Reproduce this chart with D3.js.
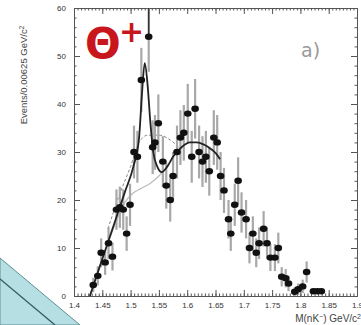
<!DOCTYPE html>
<html>
<head>
<meta charset="utf-8">
<script src="https://cdn.jsdelivr.net/npm/d3@7"></script>
<style>
  body { margin: 0; background: #fff; }
  svg { display: block; }
</style>
</head>
<body>
<div id="chart"></div>
<script>
// data
var massVals = [1.434,1.442,1.448,1.455,1.461,1.468,1.475,1.481,1.487,1.493,1.499,1.506,1.512,1.519,1.532,1.539,1.543,1.549,1.557,1.563,1.570,1.575,1.582,1.588,1.594,1.601,1.608,1.614,1.621,1.627,1.633,1.639,1.647,1.653,1.659,1.665,1.673,1.677,1.684,1.690,1.696,1.704,1.710,1.716,1.722,1.727,1.735,1.741,1.747,1.755,1.761,1.767,1.774,1.779,1.790,1.796,1.804,1.811,1.823,1.830,1.837];
var events = [2.3,4.2,9,7,11,8.2,18,18.5,18,13,19,30,29,45,54,31,32,36,28,23,20,25,30,33,34,38,29,39,30,28,29,26,33,32,25,22,16,13,19,24,17.4,16,10,13,9,11,14,11,8,8,10,4,3.7,2.6,0.9,1.4,2,5,1,1,1];
var errors = [1.5,2,3,2.6,3.3,2.9,4.2,4.3,4.2,3.6,4.4,5.5,5.4,6.7,7.3,5.6,5.7,6,5.3,4.8,4.5,5,5.5,5.7,5.8,6.2,5.4,6.2,5.5,5.3,5.4,5.1,5.7,5.7,5,4.7,4,3.6,4.4,4.9,4.2,4,3.2,3.6,3,3.3,3.7,3.3,2.8,2.8,3.2,2,1.9,1.6,0.9,1.2,1.4,2.2,0,0,0];

// fit with peak (black), background fits (grey solid, dashed)
var fitX = [1.428,1.45,1.47,1.49,1.505,1.515,1.52,1.525,1.53,1.535,1.54,1.547,1.555,1.565,1.575,1.59,1.605,1.617,1.63,1.64,1.65,1.658];
var fitY = [0,7.7,14.7,21.7,27,33,42,48.5,44,36,30,27,25.8,27,29,31,32,32,31.5,30.8,29.8,28.5];
var bgX = [1.428,1.46,1.49,1.505,1.52,1.535,1.55,1.565];
var bgY = [0,11,19.5,21.5,22.5,23.5,25,27];
var dashX = [1.46,1.48,1.5,1.515,1.53,1.55,1.57,1.585];
var dashY = [14,21,27,32,33.5,33.5,32.5,31];

var xTicks = [1.4,1.45,1.5,1.55,1.6,1.65,1.7,1.75,1.8,1.85,1.9];
var yTicks = [0,10,20,30,40,50,60];

var W = 361, H = 325;
var margin = {left: 74, right: 357, top: 8, bottom: 296};

var svg = d3.select("#chart").append("svg")
  .attr("width", W).attr("height", H);

// decorative blue band, bottom left
svg.append("path")
  .attr("d", "M0,258 L80,325 L0,325 Z")
  .attr("fill", "#b5dfe2").attr("stroke", "#5d8f95").attr("stroke-width", 1);
svg.append("path")
  .attr("d", "M0,279 L55,325")
  .attr("stroke", "#2f5a60").attr("stroke-width", 1.3).attr("fill", "none");

var x = d3.scaleLinear().domain([1.4, 1.9]).range([margin.left, margin.right]);
var y = d3.scaleLinear().domain([0, 60]).range([margin.bottom, margin.top]);

var minorX = d3.range(0, 81).map(i => 1.4 + i * 0.00625);
var minorY = d3.range(0, 31).map(i => i * 2);

var axisCol = "#555";

function styleAxis(g) {
  g.select(".domain").attr("stroke", axisCol).attr("stroke-width", 1);
  g.selectAll(".tick line").attr("stroke", axisCol);
  g.selectAll("text").attr("fill", "#333").attr("font-family", "Liberation Sans Narrow, Liberation Sans, sans-serif");
}

// bottom axis
svg.append("g")
  .attr("transform", `translate(0,${margin.bottom})`)
  .call(d3.axisBottom(x).tickValues(minorX).tickFormat("").tickSize(-2.5).tickSizeOuter(0))
  .call(styleAxis);
svg.append("g")
  .attr("transform", `translate(0,${margin.bottom})`)
  .call(d3.axisBottom(x).tickValues(xTicks).tickFormat(d => d3.format("")(d)).tickSize(-6).tickPadding(6).tickSizeOuter(0))
  .call(styleAxis)
  .selectAll("text").attr("font-size", 8);

// top axis
svg.append("g")
  .attr("transform", `translate(0,${margin.top})`)
  .call(d3.axisTop(x).tickValues(minorX).tickFormat("").tickSize(-2.5).tickSizeOuter(0))
  .call(styleAxis);
svg.append("g")
  .attr("transform", `translate(0,${margin.top})`)
  .call(d3.axisTop(x).tickValues(xTicks).tickFormat("").tickSize(-6).tickSizeOuter(0))
  .call(styleAxis);

// left axis
svg.append("g")
  .attr("transform", `translate(${margin.left},0)`)
  .call(d3.axisLeft(y).tickValues(minorY).tickFormat("").tickSize(-2.5).tickSizeOuter(0))
  .call(styleAxis);
svg.append("g")
  .attr("transform", `translate(${margin.left},0)`)
  .call(d3.axisLeft(y).tickValues(yTicks).tickSize(-6).tickPadding(8).tickSizeOuter(0))
  .call(styleAxis)
  .selectAll("text").attr("font-size", 8);

// right axis
svg.append("g")
  .attr("transform", `translate(${margin.right},0)`)
  .call(d3.axisRight(y).tickValues(minorY).tickFormat("").tickSize(-2.5).tickSizeOuter(0))
  .call(styleAxis);
svg.append("g")
  .attr("transform", `translate(${margin.right},0)`)
  .call(d3.axisRight(y).tickValues(yTicks).tickFormat("").tickSize(-6).tickSizeOuter(0))
  .call(styleAxis);

// curves
var line = d3.line().x(d => x(d[0])).y(d => y(d[1])).curve(d3.curveMonotoneX);

svg.append("path")
  .datum(bgX.map((v, i) => [v, bgY[i]]))
  .attr("d", line).attr("fill", "none")
  .attr("stroke", "#bbb").attr("stroke-width", 1.2);

svg.append("path")
  .datum(dashX.map((v, i) => [v, dashY[i]]))
  .attr("d", line).attr("fill", "none")
  .attr("stroke", "#888").attr("stroke-width", 1).attr("stroke-dasharray", "3,2");

// error bars
var pts = massVals.map((v, i) => ({m: v, n: events[i], e: errors[i]}));

svg.selectAll(".err")
  .data(pts)
  .join("line")
    .attr("class", "err")
    .attr("x1", d => x(d.m)).attr("x2", d => x(d.m))
    .attr("y1", d => y(Math.min(60, d.n + d.e))).attr("y2", d => y(Math.max(0, d.n - d.e)))
    .attr("stroke", "#a8a8a8").attr("stroke-width", 2.2);

svg.append("path")
  .datum(fitX.map((v, i) => [v, fitY[i]]))
  .attr("d", line).attr("fill", "none")
  .attr("stroke", "#222").attr("stroke-width", 1.8);

// peak marker line
svg.append("line")
  .attr("x1", x(1.532)).attr("x2", x(1.532))
  .attr("y1", y(60)).attr("y2", y(54))
  .attr("stroke", "#333").attr("stroke-width", 1.5);

// points
svg.selectAll(".pt")
  .data(pts)
  .join("ellipse")
    .attr("class", "pt")
    .attr("cx", d => x(d.m)).attr("cy", d => y(d.n))
    .attr("rx", 3.8).attr("ry", 3.2)
    .attr("fill", "#111");

// labels
svg.append("text")
  .attr("transform", "translate(27,75) rotate(-90)")
  .attr("text-anchor", "middle")
  .attr("font-family", "Liberation Sans, sans-serif")
  .attr("font-size", 9.5).attr("fill", "#444")
  .html("Events/0.00625 GeV/c<tspan dy='-3' font-size='6.5'>2</tspan>");

svg.append("text")
  .attr("x", 361).attr("y", 322)
  .attr("text-anchor", "end")
  .attr("font-family", "Liberation Sans, sans-serif")
  .attr("font-size", 10).attr("fill", "#444")
  .html("M(nK<tspan dy='-3' font-size='7'>−</tspan><tspan dy='3'>) GeV/c</tspan><tspan dy='-3' font-size='7'>2</tspan>");

svg.append("text")
  .attr("x", 85).attr("y", 58)
  .attr("font-family", "DejaVu Sans, sans-serif")
  .attr("font-weight", "bold")
  .attr("font-size", 42).attr("fill", "#c8161d")
  .text("Θ");
svg.append("text")
  .attr("x", 119).attr("y", 42)
  .attr("font-family", "DejaVu Sans, sans-serif")
  .attr("font-weight", "bold")
  .attr("font-size", 30).attr("fill", "#c8161d")
  .text("+");

svg.append("text")
  .attr("x", 301).attr("y", 57)
  .attr("font-family", "DejaVu Sans, sans-serif")
  .attr("font-size", 19).attr("fill", "#999")
  .text("a)");
</script>
</body>
</html>
